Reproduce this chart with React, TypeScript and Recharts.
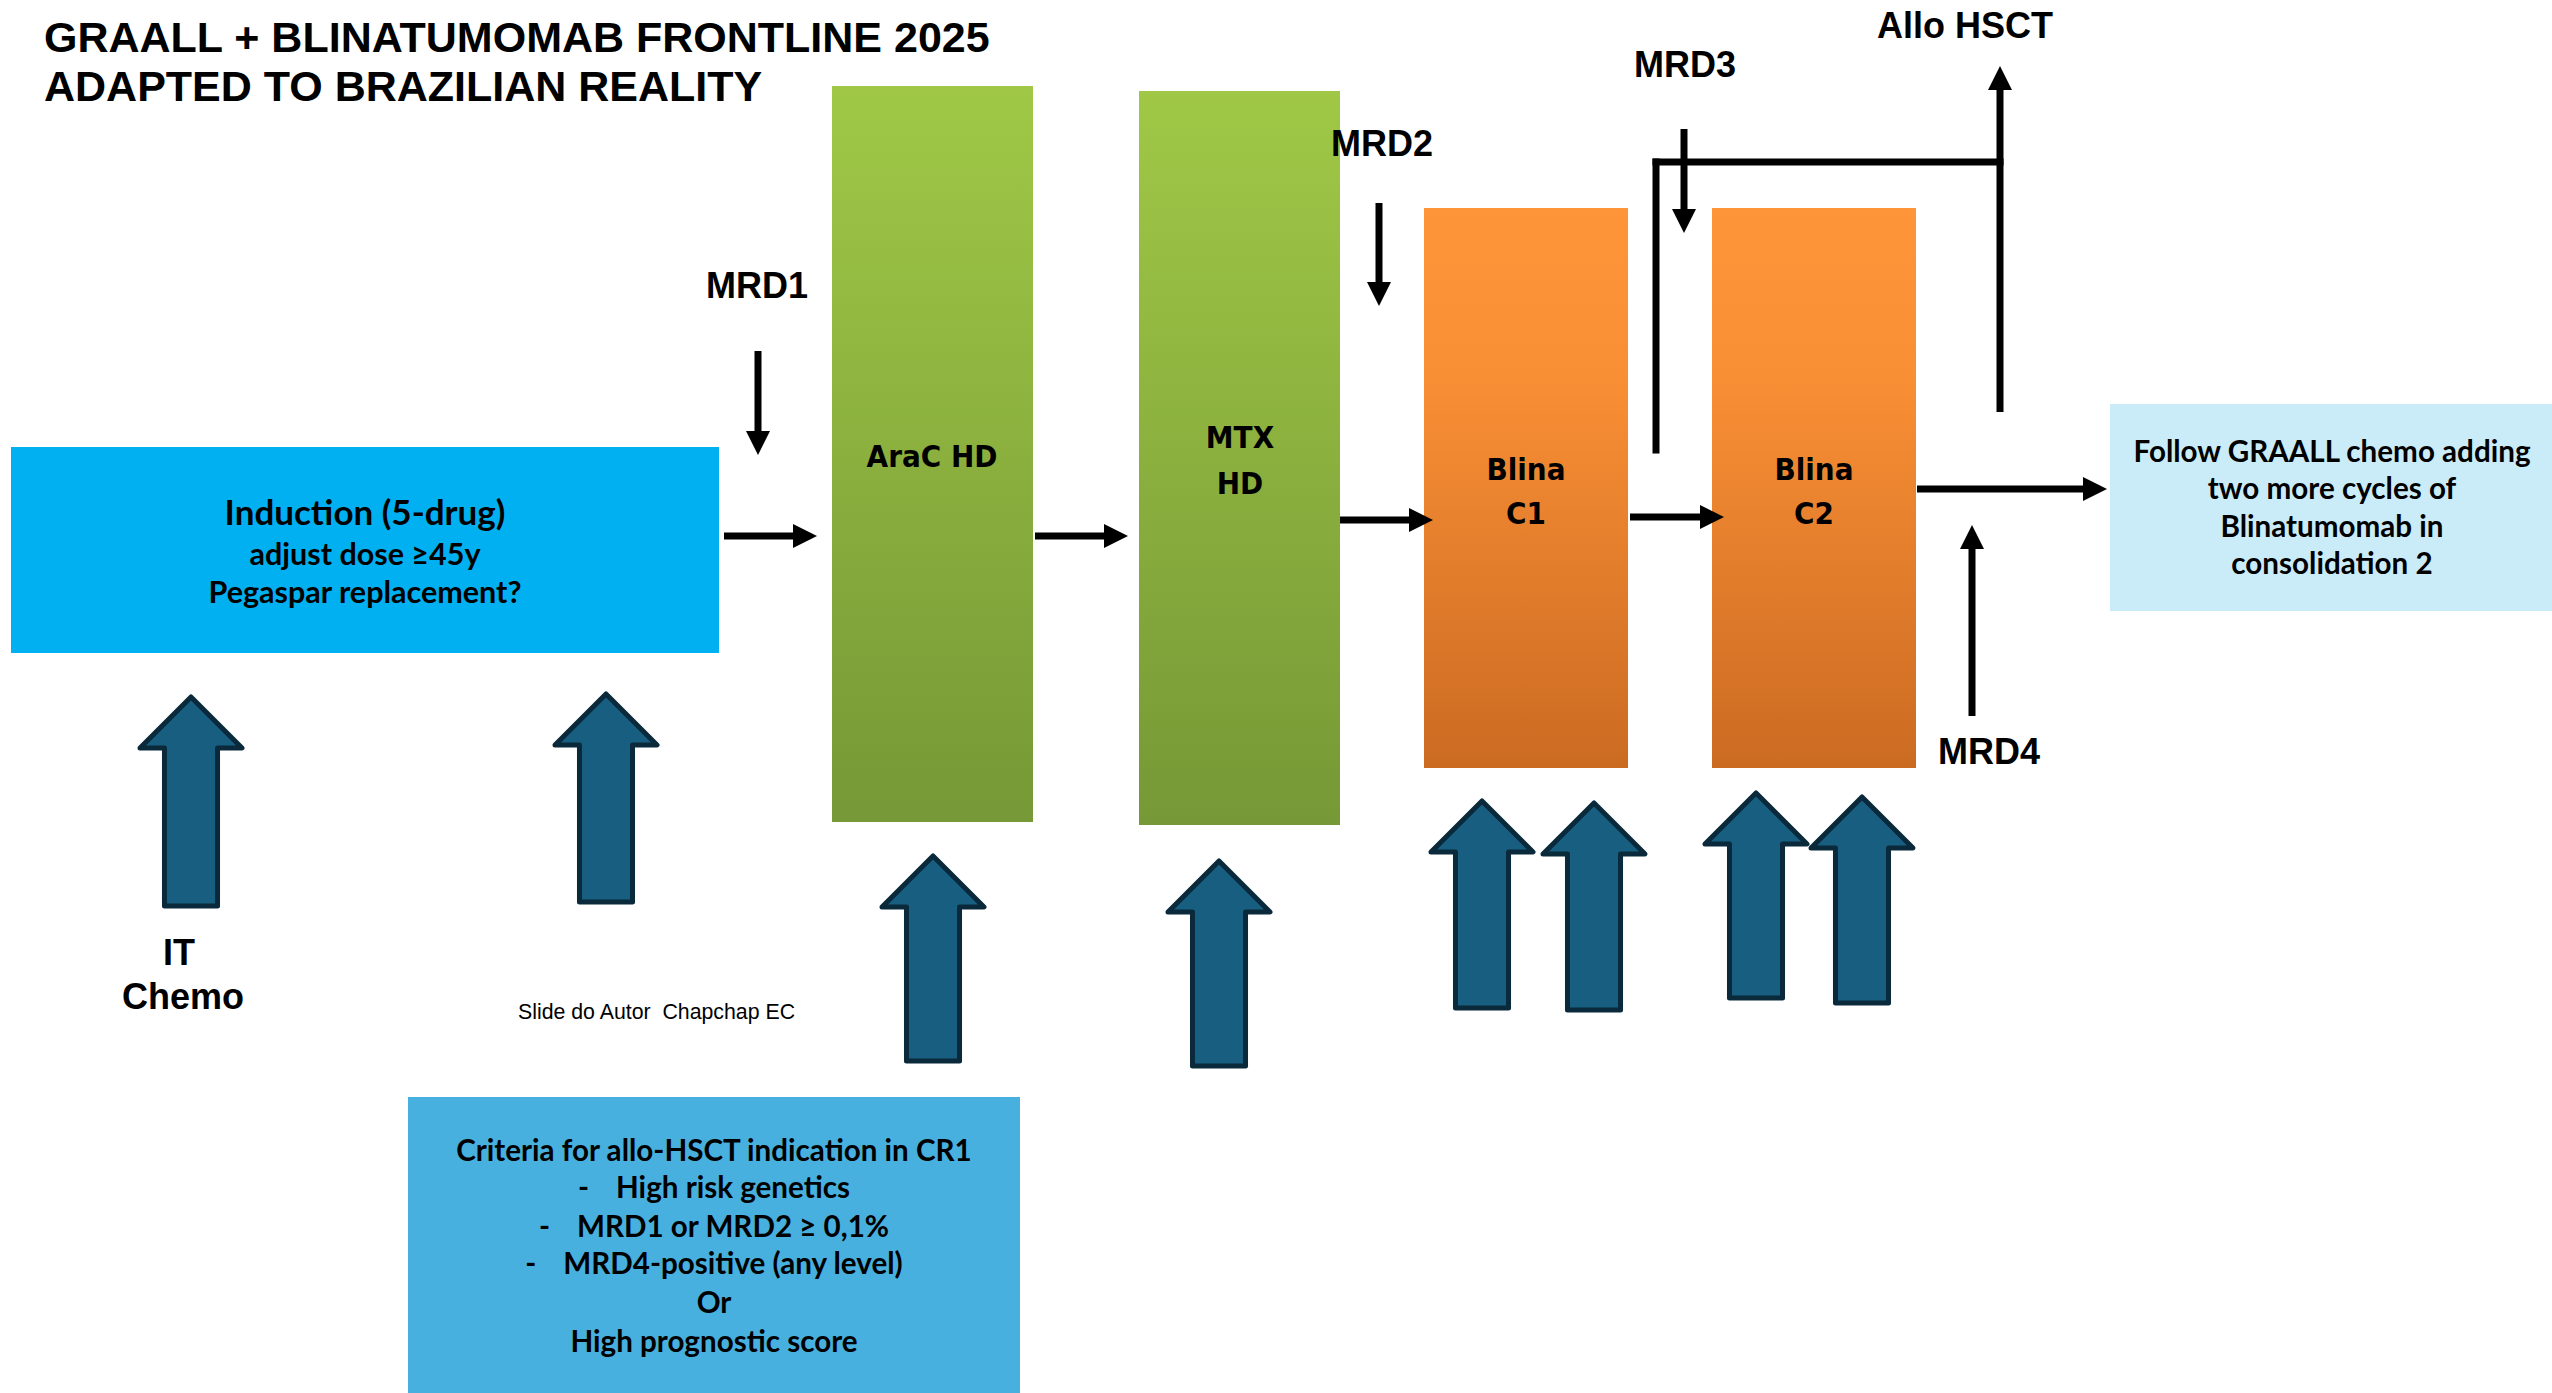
import { ComposedChart, ReferenceArea, ReferenceLine, Scatter, XAxis, YAxis } from "recharts";

// slide is laid out in its own units: 2552 x 1393, y grows downwards
const SLIDE_W = 2552;
const SLIDE_H = 1393;

// treatment blocks, [x1, x2] x [y1, y2] in slide units
const phaseBoxes = [
  { id: "induction", kind: "cyan", x1: 11, x2: 719, y1: 447, y2: 653 },
  { id: "arac", kind: "green", x1: 832, x2: 1033, y1: 86, y2: 822 },
  { id: "mtx", kind: "green", x1: 1139, x2: 1340, y1: 91, y2: 825 },
  { id: "blina1", kind: "orange", x1: 1424, x2: 1628, y1: 208, y2: 768 },
  { id: "blina2", kind: "orange", x1: 1712, x2: 1916, y1: 208, y2: 768 },
  { id: "follow", kind: "pale", x1: 2110, x2: 2552, y1: 404, y2: 611 },
  { id: "criteria", kind: "blue", x1: 408, x2: 1020, y1: 1097, y2: 1393 },
];

// thin black connectors (from -> to), head at the "to" end
const connectors = [
  { x1: 724, y1: 536, x2: 817, y2: 536, head: true },
  { x1: 1035, y1: 536, x2: 1128, y2: 536, head: true },
  { x1: 1340, y1: 520, x2: 1433, y2: 520, head: true },
  { x1: 1630, y1: 517, x2: 1724, y2: 517, head: true },
  { x1: 1917, y1: 489, x2: 2107, y2: 489, head: true },
  { x1: 758, y1: 351, x2: 758, y2: 455, head: true },
  { x1: 1379, y1: 203, x2: 1379, y2: 306, head: true },
  { x1: 1684, y1: 129, x2: 1684, y2: 233, head: true },
  { x1: 1972, y1: 716, x2: 1972, y2: 525, head: true },
  { x1: 1656, y1: 450, x2: 1656, y2: 162, head: false },
  { x1: 1656, y1: 162, x2: 2000, y2: 162, head: false },
  { x1: 2000, y1: 412, x2: 2000, y2: 66, head: true },
];

// fat "treatment given" arrows: centre x, tip y, base y
const blockArrows = [
  { x: 191, tip: 697, base: 906 },
  { x: 606, tip: 694, base: 902 },
  { x: 933, tip: 856, base: 1061 },
  { x: 1219, tip: 861, base: 1066 },
  { x: 1482, tip: 801, base: 1008 },
  { x: 1594, tip: 803, base: 1010 },
  { x: 1756, tip: 793, base: 998 },
  { x: 1862, tip: 797, base: 1003 },
];

const titleLines = [
  { x: 44, y: 52, kind: "title", text: "GRAALL + BLINATUMOMAB FRONTLINE 2025" },
  { x: 44, y: 101, kind: "title", text: "ADAPTED TO BRAZILIAN REALITY" },
];

const boxTexts = [
  { x: 365, y: 525, kind: "boxHead", text: "Induction (5-drug)" },
  { x: 365, y: 565, kind: "box", text: "adjust dose \u226545y" },
  { x: 365, y: 603, kind: "box", text: "Pegaspar replacement?" },
  { x: 932, y: 467, kind: "drug", text: "AraC HD" },
  { x: 1240, y: 448, kind: "drug", text: "MTX" },
  { x: 1240, y: 494, kind: "drug", text: "HD" },
  { x: 1526, y: 480, kind: "drug", text: "Blina" },
  { x: 1526, y: 524, kind: "drug", text: "C1" },
  { x: 1814, y: 480, kind: "drug", text: "Blina" },
  { x: 1814, y: 524, kind: "drug", text: "C2" },
  { x: 2332, y: 462, kind: "note", text: "Follow GRAALL chemo adding" },
  { x: 2332, y: 499, kind: "note", text: "two more cycles of" },
  { x: 2332, y: 537, kind: "note", text: "Blinatumomab in" },
  { x: 2332, y: 574, kind: "note", text: "consolidation 2" },
  { x: 714, y: 1161, kind: "note", text: "Criteria for allo-HSCT indication in CR1" },
  { x: 714, y: 1198, kind: "note", text: "High risk genetics", bullet: true },
  { x: 714, y: 1237, kind: "note", text: "MRD1 or MRD2 \u2265 0,1%", bullet: true },
  { x: 714, y: 1274, kind: "note", text: "MRD4-positive (any level)", bullet: true },
  { x: 714, y: 1313, kind: "note", text: "Or" },
  { x: 714, y: 1352, kind: "note", text: "High prognostic score" },
];

const markerLabels = [
  { x: 757, y: 298, kind: "label", text: "MRD1" },
  { x: 1382, y: 156, kind: "label", text: "MRD2" },
  { x: 1685, y: 77, kind: "label", text: "MRD3" },
  { x: 1965, y: 38, kind: "label", text: "Allo HSCT" },
  { x: 1989, y: 764, kind: "label", text: "MRD4" },
  { x: 179, y: 965, kind: "label", text: "IT" },
  { x: 183, y: 1009, kind: "label", text: "Chemo" },
  { x: 518, y: 1019, kind: "credit", text: "Slide do Autor  Chapchap EC" },
];

const ARIAL = "'Liberation Sans', Arial, sans-serif";
const CALIBRI = "Lato, 'Noto Sans', sans-serif";
const VERDANA = "'DejaVu Sans Condensed', 'DejaVu Sans', Verdana, sans-serif";

const textStyles: Record<string, any> = {
  title: { family: ARIAL, size: 43, weight: 700, anchor: "start" },
  label: { family: ARIAL, size: 36, weight: 700, anchor: "middle" },
  credit: { family: ARIAL, size: 21.3, weight: 400, anchor: "start" },
  boxHead: { family: CALIBRI, size: 35, weight: 700, anchor: "middle" },
  box: { family: CALIBRI, size: 30.5, weight: 700, anchor: "middle" },
  note: { family: CALIBRI, size: 29.6, weight: 700, anchor: "middle" },
  drug: { family: VERDANA, size: 31, weight: 700, anchor: "middle" },
};

const boxFills: Record<string, string> = {
  cyan: "#00B0F0",
  green: "url(#greenGrad)",
  orange: "url(#orangeGrad)",
  pale: "#CAECF8",
  blue: "#47B0DF",
};

const TextMark = (props: any) => {
  const { cx, cy, payload } = props;
  const st = textStyles[payload.kind];
  return (
    <text
      x={cx}
      y={cy}
      textAnchor={st.anchor}
      fontFamily={st.family}
      fontSize={st.size}
      fontWeight={st.weight}
      fill="#000"
      style={{ whiteSpace: "pre" }}
    >
      {payload.bullet ? (
        <>
          <tspan>-</tspan>
          <tspan dx={27}>{payload.text}</tspan>
        </>
      ) : (
        payload.text
      )}
    </text>
  );
};

const HEAD = 24;

const Connector = (props: any) => {
  const { x1, y1, x2, y2, head } = props;
  const dx = x2 - x1;
  const dy = y2 - y1;
  const len = Math.hypot(dx, dy) || 1;
  const ux = dx / len;
  const uy = dy / len;
  const endX = head ? x2 - ux * (HEAD - 2) : x2;
  const endY = head ? y2 - uy * (HEAD - 2) : y2;
  const bx = x2 - ux * HEAD;
  const by = y2 - uy * HEAD;
  const px = -uy * (HEAD / 2);
  const py = ux * (HEAD / 2);
  return (
    <g>
      <line x1={x1} y1={y1} x2={endX} y2={endY} stroke="#000" strokeWidth={7} strokeLinecap={head ? "butt" : "square"} />
      {head && <polygon points={`${x2},${y2} ${bx + px},${by + py} ${bx - px},${by - py}`} fill="#000" />}
    </g>
  );
};

const BlockArrow = (props: any) => {
  const { x, y, width, height } = props;
  const cx = x + width / 2;
  const shaft = width * 0.26;
  const headH = 51;
  const d = [
    `M ${cx} ${y}`,
    `L ${x + width} ${y + headH}`,
    `L ${cx + shaft} ${y + headH}`,
    `L ${cx + shaft} ${y + height}`,
    `L ${cx - shaft} ${y + height}`,
    `L ${cx - shaft} ${y + headH}`,
    `L ${x} ${y + headH}`,
    "Z",
  ].join(" ");
  return <path d={d} fill="#175E81" stroke="#0A2A3B" strokeWidth={5} strokeLinejoin="round" />;
};

export default function App() {
  const texts = [...titleLines, ...boxTexts, ...markerLabels];
  return (
    <div style={{ position: "absolute", left: 0, top: 0, width: SLIDE_W, height: SLIDE_H, background: "#fff" }}>
      <ComposedChart width={SLIDE_W} height={SLIDE_H} margin={{ top: 0, right: 0, bottom: 0, left: 0 }}>
        <defs>
          <linearGradient id="greenGrad" x1="0" y1="0" x2="0" y2="1">
            <stop offset="0%" stopColor="#A0C846" />
            <stop offset="100%" stopColor="#769836" />
          </linearGradient>
          <linearGradient id="orangeGrad" x1="0" y1="0" x2="0" y2="1">
            <stop offset="0%" stopColor="#FF9539" />
            <stop offset="30%" stopColor="#F98F35" />
            <stop offset="100%" stopColor="#CB6B22" />
          </linearGradient>
        </defs>
        <XAxis type="number" dataKey="x" domain={[0, SLIDE_W]} allowDataOverflow hide />
        <YAxis type="number" dataKey="y" domain={[0, SLIDE_H]} allowDataOverflow reversed hide />
        {phaseBoxes.map((b) => (
          <ReferenceArea
            key={b.id}
            x1={b.x1}
            x2={b.x2}
            y1={b.y1}
            y2={b.y2}
            fill={boxFills[b.kind]}
            fillOpacity={1}
            stroke="none"
            ifOverflow="visible"
          />
        ))}
        {blockArrows.map((a, i) => (
          <ReferenceArea
            key={`blk-${i}`}
            x1={a.x - 51}
            x2={a.x + 51}
            y1={a.tip}
            y2={a.base}
            ifOverflow="visible"
            shape={(p: any) => <BlockArrow {...p} />}
          />
        ))}
        {connectors.map((c, i) => (
          <ReferenceLine
            key={`con-${i}`}
            segment={[
              { x: c.x1, y: c.y1 },
              { x: c.x2, y: c.y2 },
            ]}
            ifOverflow="visible"
            shape={(p: any) => <Connector {...p} head={c.head} />}
          />
        ))}
        <Scatter data={texts} isAnimationActive={false} shape={(p: any) => <TextMark {...p} />} />
      </ComposedChart>
    </div>
  );
}
